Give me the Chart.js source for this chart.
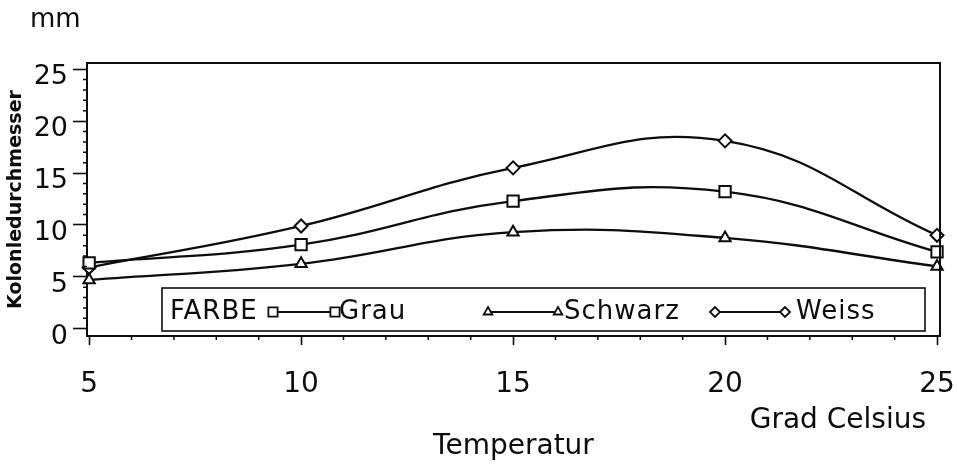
<!DOCTYPE html>
<html>
<head>
<meta charset="utf-8">
<script src="https://cdn.jsdelivr.net/npm/chart.js@4/dist/chart.umd.min.js"></script>
<style>
  html, body { margin: 0; padding: 0; background: #fff; }
  #wrap { width: 957px; height: 472px; }
</style>
</head>
<body>
<div id="wrap"><canvas id="c" width="957" height="472"></canvas></div>
<script>
// ---- data ----
const temperatures = [5, 10, 15, 20, 25];
const grau    = [6.35, 8.1, 12.3, 13.2, 7.4];
const schwarz = [4.7, 6.25, 9.3, 8.75, 6.0];
const weiss   = [5.9, 9.9, 15.5, 18.1, 9.0];
const seriesNames = ['Grau', 'Schwarz', 'Weiss'];
const xTickValues = [5, 10, 15, 20, 25];
const yTickValues = [0, 5, 10, 15, 20, 25];
const legendTitle = 'FARBE';
const yTitle = 'Kolonledurchmesser';
const xTitle = 'Temperatur';
const xUnit = 'Grad Celsius';
const yUnit = 'mm';

const FONT = "'DejaVu Sans', sans-serif";
const INK = '#0d0d0d';
const toPoints = vals => temperatures.map((t, i) => ({ x: t, y: vals[i] }));

function ds(label, vals, style, radius) {
  return {
    label, data: toPoints(vals),
    borderColor: INK, borderWidth: 2.3,
    pointStyle: style, pointRadius: radius, pointHoverRadius: radius,
    pointBorderWidth: 2, pointBackgroundColor: '#fff', pointBorderColor: INK,
    tension: 0.42, fill: false, clip: false
  };
}

function shapePath(ctx, style, x, y, r) {
  ctx.beginPath();
  if (style === 'rect') {
    const s = Math.SQRT1_2 * r;
    ctx.rect(x - s, y - s, 2 * s, 2 * s);
  } else if (style === 'triangle') {
    ctx.moveTo(x, y - r);
    ctx.lineTo(x + r * Math.sin(Math.PI / 3), y + r * 0.5);
    ctx.lineTo(x - r * Math.sin(Math.PI / 3), y + r * 0.5);
    ctx.closePath();
  } else {
    ctx.moveTo(x - r, y); ctx.lineTo(x, y - r); ctx.lineTo(x + r, y); ctx.lineTo(x, y + r);
    ctx.closePath();
  }
}

const decor = {
  id: 'decor',
  afterDraw(chart) {
    const { ctx, chartArea: a, scales } = chart;
    const xs = scales.x, ys = scales.y;
    ctx.save();
    ctx.strokeStyle = INK;
    ctx.lineWidth = 2;
    // frame top and right
    ctx.beginPath();
    ctx.moveTo(a.left, a.top); ctx.lineTo(a.right, a.top); ctx.lineTo(a.right, a.bottom);
    ctx.stroke();
    // minor ticks
    ctx.lineWidth = 1.5;
    ctx.beginPath();
    for (let v = 6; v < 25; v++) {
      if (v % 5 === 0) continue;
      const px = xs.getPixelForValue(v);
      ctx.moveTo(px, a.bottom); ctx.lineTo(px, a.bottom + 4);
    }
    for (let v = 1; v < 25; v++) {
      if (v % 5 === 0) continue;
      const py = ys.getPixelForValue(v);
      ctx.moveTo(a.left - 4, py); ctx.lineTo(a.left, py);
    }
    ctx.stroke();

    // unit texts
    ctx.fillStyle = INK;
    ctx.font = '26px ' + FONT;
    ctx.textBaseline = 'alphabetic';
    ctx.textAlign = 'left';
    ctx.fillText(yUnit, 30, 27);
    ctx.font = '28px ' + FONT;
    ctx.textAlign = 'right';
    ctx.textBaseline = 'middle';
    ctx.fillText(xUnit, a.right - 14, 421);

    // legend box
    const bx = a.left + 75, by = a.top + 225, bw = a.right - 15 - bx, bh = 43;
    ctx.lineWidth = 1.6;
    ctx.strokeRect(bx, by, bw, bh);
    const cy = by + 24;
    ctx.textAlign = 'left';
    ctx.textBaseline = 'middle';
    ctx.font = '26px ' + FONT;
    ctx.letterSpacing = '1px';
    ctx.fillText(legendTitle, bx + 8, cy);
    const items = [
      { x0: bx + 111, x1: bx + 173, tx: bx + 177 },
      { x0: bx + 326, x1: bx + 396, tx: bx + 402 },
      { x0: bx + 553, x1: bx + 623, tx: bx + 634 }
    ];
    chart.data.datasets.forEach((d, i) => {
      const it = items[i];
      ctx.lineWidth = 1.8;
      ctx.beginPath(); ctx.moveTo(it.x0, cy); ctx.lineTo(it.x1, cy); ctx.stroke();
      [it.x0, it.x1].forEach(px => {
        shapePath(ctx, d.pointStyle, px, cy, d.pointStyle === 'rect' ? 6.5 : 5);
        ctx.fillStyle = '#fff'; ctx.fill(); ctx.stroke();
      });
      ctx.fillStyle = INK;
      ctx.fillText(d.label, it.tx, cy);
    });
    ctx.restore();
  }
};

new Chart(document.getElementById('c'), {
  type: 'line',
  data: {
    datasets: [
      ds(seriesNames[0], grau, 'rect', 8),
      ds(seriesNames[1], schwarz, 'triangle', 6.5),
      ds(seriesNames[2], weiss, 'rectRot', 6.5)
    ]
  },
  options: {
    responsive: false,
    animation: false,
    events: [],
    layout: { padding: { top: 63, right: 17, left: 0, bottom: 0 } },
    plugins: { legend: { display: false }, tooltip: { enabled: false }, title: { display: false } },
    scales: {
      x: {
        type: 'linear', min: 4.95, max: 25.07,
        afterFit: s => { s.height = 136; s.paddingLeft = 0; s.paddingRight = 0; },
        afterBuildTicks: s => { s.ticks = xTickValues.map(v => ({ value: v })); },
        grid: { drawOnChartArea: false, drawTicks: true, tickLength: 9, tickWidth: 1.6, color: INK },
        border: { display: true, color: INK, width: 2 },
        ticks: { color: INK, font: { family: FONT, size: 28 }, padding: 23, maxRotation: 0, autoSkip: false },
        title: { display: true, text: xTitle, color: INK, font: { family: FONT, size: 28 }, padding: { top: 0, bottom: 8 } }
      },
      y: {
        type: 'linear', min: -0.7, max: 25.6,
        afterFit: s => { s.width = 87; s.paddingTop = 0; s.paddingBottom = 0; },
        afterBuildTicks: s => { s.ticks = yTickValues.map(v => ({ value: v })); },
        grid: { drawOnChartArea: false, drawTicks: true, tickLength: 14, tickWidth: 1.6, color: INK },
        border: { display: true, color: INK, width: 2 },
        ticks: { color: INK, font: { family: FONT, size: 27 }, padding: 5, labelOffset: 8 },
        title: { display: true, text: yTitle, color: INK, font: { family: FONT, size: 19, weight: 'bold' }, padding: { top: 5, bottom: 0 } }
      }
    }
  },
  plugins: [decor]
});
</script>
</body>
</html>
